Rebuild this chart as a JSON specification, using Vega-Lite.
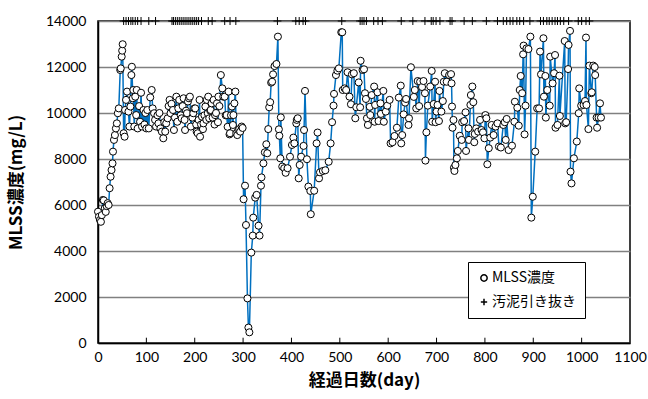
{
  "$schema": "https://vega.github.io/schema/vega-lite/v6.json",
  "width": 532,
  "height": 322,
  "autosize": "none",
  "padding": {"left": 98, "top": 21, "right": 18, "bottom": 56},
  "background": "white",
  "config": {
    "view": {"stroke": "black", "strokeWidth": 1.5},
    "font": "Lato"
  },
  "datasets": {
    "mlss": [
      {"d":0,"v":5710},{"d":2,"v":5490},{"d":4,"v":5350},{"d":6,"v":5270},{"d":8,"v":5560},{"d":10,"v":6220},{"d":12,"v":6200},{"d":14,"v":5860},{"d":16,"v":5700},{"d":18,"v":5950},{"d":20,"v":6080},{"d":22,"v":6000},{"d":24,"v":6730},{"d":26,"v":7230},{"d":28,"v":7520},{"d":30,"v":7810},{"d":31,"v":8320},{"d":33,"v":8830},{"d":35,"v":9040},{"d":37,"v":9330},{"d":39,"v":9550},{"d":41,"v":9990},{"d":43,"v":10200},{"d":46,"v":11870},{"d":47,"v":11940},{"d":49,"v":12450},{"d":50,"v":12710},{"d":51,"v":12990},{"d":53,"v":9120},{"d":55,"v":8970},{"d":56,"v":10130},{"d":58,"v":10570},{"d":60,"v":10930},{"d":63,"v":10060},{"d":65,"v":9410},{"d":67,"v":10280},{"d":69,"v":11650},{"d":70,"v":12010},{"d":72,"v":10640},{"d":73,"v":11000},{"d":75,"v":9410},{"d":77,"v":10710},{"d":79,"v":9910},{"d":80,"v":11000},{"d":82,"v":9330},{"d":85,"v":10300},{"d":87,"v":9620},{"d":89,"v":10880},{"d":91,"v":9410},{"d":94,"v":10130},{"d":96,"v":9500},{"d":98,"v":10000},{"d":100,"v":9330},{"d":102,"v":10130},{"d":105,"v":9330},{"d":108,"v":10680},{"d":111,"v":11000},{"d":113,"v":10200},{"d":116,"v":9990},{"d":118,"v":9700},{"d":120,"v":9410},{"d":123,"v":9900},{"d":125,"v":9550},{"d":127,"v":10000},{"d":129,"v":9330},{"d":132,"v":9190},{"d":135,"v":8900},{"d":137,"v":9600},{"d":139,"v":9190},{"d":141,"v":9550},{"d":144,"v":9770},{"d":146,"v":10300},{"d":148,"v":10570},{"d":150,"v":9990},{"d":152,"v":10400},{"d":155,"v":10130},{"d":157,"v":9260},{"d":159,"v":9800},{"d":162,"v":10710},{"d":164,"v":9620},{"d":166,"v":10200},{"d":168,"v":10570},{"d":171,"v":9900},{"d":173,"v":9770},{"d":175,"v":10300},{"d":177,"v":10640},{"d":179,"v":9700},{"d":180,"v":9260},{"d":182,"v":10100},{"d":184,"v":9990},{"d":186,"v":10500},{"d":188,"v":10640},{"d":190,"v":10710},{"d":192,"v":9410},{"d":195,"v":9800},{"d":197,"v":9990},{"d":199,"v":10200},{"d":201,"v":10200},{"d":203,"v":9500},{"d":204,"v":9190},{"d":206,"v":9120},{"d":208,"v":9700},{"d":210,"v":10570},{"d":211,"v":8970},{"d":213,"v":9500},{"d":215,"v":9840},{"d":217,"v":9300},{"d":218,"v":9550},{"d":220,"v":9900},{"d":222,"v":10280},{"d":224,"v":9700},{"d":225,"v":10570},{"d":227,"v":9990},{"d":228,"v":10710},{"d":230,"v":9770},{"d":232,"v":10100},{"d":233,"v":10130},{"d":235,"v":10420},{"d":237,"v":9800},{"d":239,"v":10570},{"d":241,"v":9500},{"d":242,"v":9910},{"d":244,"v":10000},{"d":246,"v":10420},{"d":248,"v":9600},{"d":249,"v":10710},{"d":251,"v":10300},{"d":254,"v":11650},{"d":257,"v":11070},{"d":259,"v":10710},{"d":262,"v":10710},{"d":264,"v":9900},{"d":266,"v":9910},{"d":268,"v":9400},{"d":270,"v":10930},{"d":272,"v":9070},{"d":273,"v":9120},{"d":275,"v":9900},{"d":277,"v":10280},{"d":279,"v":9480},{"d":280,"v":9910},{"d":282,"v":10420},{"d":284,"v":10930},{"d":286,"v":9120},{"d":288,"v":9040},{"d":290,"v":9260},{"d":292,"v":9300},{"d":294,"v":9190},{"d":297,"v":9410},{"d":299,"v":9350},{"d":301,"v":6250},{"d":304,"v":6840},{"d":306,"v":5130},{"d":309,"v":1940},{"d":311,"v":670},{"d":313,"v":465},{"d":317,"v":3930},{"d":320,"v":4670},{"d":321,"v":5450},{"d":325,"v":6320},{"d":328,"v":6440},{"d":332,"v":5100},{"d":334,"v":4670},{"d":337,"v":6840},{"d":338,"v":7200},{"d":342,"v":7810},{"d":345,"v":8290},{"d":348,"v":8640},{"d":350,"v":8250},{"d":352,"v":9300},{"d":354,"v":10250},{"d":356,"v":10470},{"d":358,"v":11320},{"d":360,"v":11360},{"d":362,"v":11680},{"d":365,"v":12040},{"d":369,"v":12130},{"d":372,"v":13320},{"d":374,"v":9290},{"d":375,"v":9010},{"d":377,"v":8030},{"d":378,"v":9810},{"d":381,"v":7670},{"d":385,"v":7600},{"d":388,"v":7400},{"d":392,"v":7600},{"d":397,"v":8100},{"d":401,"v":8610},{"d":404,"v":8930},{"d":406,"v":8680},{"d":410,"v":9550},{"d":411,"v":9700},{"d":413,"v":9770},{"d":415,"v":7160},{"d":417,"v":7740},{"d":420,"v":8100},{"d":425,"v":8570},{"d":426,"v":9260},{"d":428,"v":10960},{"d":432,"v":7990},{"d":435,"v":6800},{"d":439,"v":6610},{"d":440,"v":5600},{"d":447,"v":6620},{"d":452,"v":8680},{"d":454,"v":9150},{"d":457,"v":7160},{"d":459,"v":7420},{"d":465,"v":7480},{"d":470,"v":7510},{"d":477,"v":7880},{"d":481,"v":8680},{"d":484,"v":9600},{"d":487,"v":10320},{"d":488,"v":10830},{"d":492,"v":11650},{"d":495,"v":11840},{"d":498,"v":11940},{"d":503,"v":13510},{"d":505,"v":13510},{"d":506,"v":11000},{"d":510,"v":11070},{"d":513,"v":11000},{"d":516,"v":11770},{"d":520,"v":10710},{"d":523,"v":10380},{"d":525,"v":11680},{"d":529,"v":11730},{"d":532,"v":9770},{"d":534,"v":10250},{"d":539,"v":11330},{"d":542,"v":10250},{"d":543,"v":12270},{"d":547,"v":11870},{"d":550,"v":11900},{"d":552,"v":10860},{"d":554,"v":10610},{"d":556,"v":9770},{"d":558,"v":9480},{"d":562,"v":10270},{"d":563,"v":9910},{"d":566,"v":10780},{"d":571,"v":11150},{"d":572,"v":9620},{"d":573,"v":10350},{"d":578,"v":10900},{"d":580,"v":9650},{"d":584,"v":10420},{"d":585,"v":9960},{"d":590,"v":10960},{"d":591,"v":9620},{"d":595,"v":10060},{"d":598,"v":10320},{"d":603,"v":10570},{"d":605,"v":8680},{"d":609,"v":8730},{"d":613,"v":9000},{"d":618,"v":9360},{"d":622,"v":10670},{"d":626,"v":11190},{"d":627,"v":8680},{"d":629,"v":9040},{"d":632,"v":9940},{"d":635,"v":10450},{"d":637,"v":10610},{"d":642,"v":9480},{"d":643,"v":9770},{"d":647,"v":11990},{"d":653,"v":10700},{"d":655,"v":11000},{"d":658,"v":10200},{"d":661,"v":11390},{"d":664,"v":10300},{"d":666,"v":11360},{"d":670,"v":11130},{"d":673,"v":11390},{"d":676,"v":10860},{"d":677,"v":7930},{"d":679,"v":9160},{"d":682,"v":10320},{"d":687,"v":11150},{"d":690,"v":11830},{"d":691,"v":9620},{"d":694,"v":10390},{"d":697,"v":11360},{"d":698,"v":9600},{"d":700,"v":10060},{"d":702,"v":10350},{"d":705,"v":9650},{"d":706,"v":10960},{"d":710,"v":10060},{"d":713,"v":10520},{"d":715,"v":11360},{"d":717,"v":11730},{"d":721,"v":11360},{"d":726,"v":11650},{"d":730,"v":11690},{"d":731,"v":11290},{"d":732,"v":10280},{"d":733,"v":9360},{"d":735,"v":9700},{"d":736,"v":7620},{"d":737,"v":7480},{"d":739,"v":7740},{"d":742,"v":8030},{"d":744,"v":8350},{"d":748,"v":9010},{"d":752,"v":8830},{"d":753,"v":9600},{"d":757,"v":9650},{"d":760,"v":10030},{"d":761,"v":8350},{"d":766,"v":9330},{"d":767,"v":8830},{"d":770,"v":10350},{"d":771,"v":10780},{"d":774,"v":11150},{"d":776,"v":10470},{"d":778,"v":8730},{"d":779,"v":9090},{"d":782,"v":9330},{"d":786,"v":9190},{"d":790,"v":9700},{"d":793,"v":9260},{"d":796,"v":9160},{"d":799,"v":8900},{"d":801,"v":9910},{"d":803,"v":9770},{"d":805,"v":7770},{"d":808,"v":8470},{"d":811,"v":8930},{"d":814,"v":9480},{"d":818,"v":9040},{"d":822,"v":9410},{"d":826,"v":9550},{"d":829,"v":8540},{"d":833,"v":8500},{"d":838,"v":9480},{"d":841,"v":9600},{"d":843,"v":8830},{"d":845,"v":9740},{"d":849,"v":8390},{"d":856,"v":8580},{"d":861,"v":9620},{"d":862,"v":10490},{"d":867,"v":10230},{"d":870,"v":9450},{"d":872,"v":11000},{"d":874,"v":11610},{"d":877,"v":10860},{"d":879,"v":12550},{"d":880,"v":12930},{"d":882,"v":9070},{"d":884,"v":10320},{"d":886,"v":12810},{"d":890,"v":12780},{"d":894,"v":13320},{"d":896,"v":5450},{"d":899,"v":6360},{"d":904,"v":8320},{"d":908,"v":10200},{"d":912,"v":10200},{"d":914,"v":12670},{"d":916,"v":11680},{"d":921,"v":13250},{"d":922,"v":10710},{"d":925,"v":11610},{"d":926,"v":9800},{"d":929,"v":11000},{"d":934,"v":10320},{"d":935,"v":12450},{"d":940,"v":11290},{"d":943,"v":11730},{"d":945,"v":12520},{"d":946,"v":9360},{"d":950,"v":9480},{"d":954,"v":11620},{"d":955,"v":9870},{"d":965,"v":13130},{"d":966,"v":9550},{"d":968,"v":9600},{"d":972,"v":11910},{"d":973,"v":12960},{"d":976,"v":13570},{"d":977,"v":7450},{"d":979,"v":6940},{"d":984,"v":8030},{"d":990,"v":8760},{"d":994,"v":9990},{"d":995,"v":11070},{"d":999,"v":10320},{"d":1004,"v":10350},{"d":1007,"v":10520},{"d":1009,"v":13280},{"d":1010,"v":10350},{"d":1014,"v":9300},{"d":1016,"v":12060},{"d":1020,"v":10860},{"d":1021,"v":10900},{"d":1024,"v":12060},{"d":1027,"v":12000},{"d":1028,"v":11650},{"d":1031,"v":9800},{"d":1032,"v":9360},{"d":1035,"v":9800},{"d":1038,"v":10420},{"d":1040,"v":9800}
    ],
    "wd": [
      {"d":53},{"d":58},{"d":63},{"d":68},{"d":72},{"d":77},{"d":82},{"d":89},{"d":105},{"d":119},{"d":153},{"d":156},{"d":160},{"d":164},{"d":168},{"d":172},{"d":176},{"d":180},{"d":184},{"d":188},{"d":192},{"d":196},{"d":200},{"d":204},{"d":208},{"d":214},{"d":228},{"d":236},{"d":262},{"d":273},{"d":285},{"d":371},{"d":409},{"d":416},{"d":424},{"d":429},{"d":504},{"d":542},{"d":546},{"d":550},{"d":555},{"d":570},{"d":579},{"d":588},{"d":627},{"d":651},{"d":676},{"d":689},{"d":693},{"d":699},{"d":707},{"d":728},{"d":732},{"d":757},{"d":774},{"d":803},{"d":826},{"d":838},{"d":845},{"d":852},{"d":858},{"d":866},{"d":872},{"d":880},{"d":893},{"d":915},{"d":921},{"d":928},{"d":933},{"d":939},{"d":945},{"d":950},{"d":956},{"d":963},{"d":973},{"d":993},{"d":1000},{"d":1009},{"d":1016}
    ],
    "xt": [
      {"t":100},{"t":200},{"t":300},{"t":400},{"t":500},{"t":600},{"t":700},{"t":800},{"t":900},{"t":1000}
    ]
  },
  "layer": [
    {
      "data": {"name": "mlss"},
      "mark": {"type": "line", "color": "#0070C0", "strokeWidth": 1.5},
      "encoding": {
        "x": {
          "field": "d", "type": "quantitative",
          "scale": {"domain": [0, 1100], "nice": false},
          "axis": {
            "title": "経過日数(day)",
            "titleFont": "Noto Sans CJK JP", "titleFontWeight": "bold", "titleFontSize": 17, "titleColor": "black", "titlePadding": 8,
            "values": [0,100,200,300,400,500,600,700,800,900,1000,1100],
            "format": "d",
            "grid": false,
            "ticks": false,
            "labelFontSize": 14, "labelColor": "black", "labelPadding": 7,
            "labelOverlap": false, "labelFlush": false, "labelBound": false,
            "domainColor": "black", "domainWidth": 1.5
          }
        },
        "y": {
          "field": "v", "type": "quantitative",
          "scale": {"domain": [0, 14000], "nice": false},
          "axis": {
            "title": "MLSS濃度(mg/L)",
            "titleFont": "Noto Sans CJK JP", "titleFontWeight": "bold", "titleFontSize": 17, "titleColor": "black", "titlePadding": 20,
            "values": [0,2000,4000,6000,8000,10000,12000,14000],
            "format": "d",
            "grid": true, "gridColor": "#808080", "gridWidth": 1.5,
            "ticks": false,
            "labelFontSize": 14, "labelColor": "black", "labelPadding": 12,
            "labelOverlap": false, "labelFlush": false, "labelBound": false,
            "domainColor": "black", "domainWidth": 1.5
          }
        }
      }
    },
    {
      "data": {"name": "xt"},
      "mark": {"type": "rule", "color": "black", "strokeWidth": 1},
      "encoding": {
        "x": {"field": "t", "type": "quantitative"},
        "y": {"datum": 0, "type": "quantitative"},
        "y2": {"datum": 230}
      }
    },
    {
      "data": {"name": "mlss"},
      "mark": {"type": "point", "filled": true, "fill": "white", "stroke": "black", "strokeWidth": 1, "size": 50, "opacity": 1},
      "encoding": {
        "x": {"field": "d", "type": "quantitative"},
        "y": {"field": "v", "type": "quantitative"},
        "shape": {
          "datum": "MLSS濃度",
          "scale": {"domain": ["MLSS濃度", "汚泥引き抜き"], "range": ["circle", "M0,-1V1M-1,0H1"]},
          "legend": {
            "title": null,
            "orient": "none", "legendX": 370, "legendY": 241,
            "strokeColor": "black", "fillColor": "white", "padding": 9,
            "labelFont": "Noto Sans CJK JP", "labelFontSize": 14, "labelColor": "black", "labelOffset": 1,
            "symbolSize": 40,
            "rowPadding": 10,
            "encode": {
              "symbols": {"update": {"fill": {"value": "white"}, "stroke": {"value": "black"}, "strokeWidth": {"value": 1}, "opacity": {"value": 1}}}
            }
          }
        }
      }
    },
    {
      "data": {"name": "wd"},
      "mark": {"type": "point", "filled": false, "stroke": "black", "strokeWidth": 1, "size": 64, "opacity": 1},
      "encoding": {
        "x": {"field": "d", "type": "quantitative"},
        "y": {"datum": 14000, "type": "quantitative"},
        "shape": {"datum": "汚泥引き抜き"}
      }
    }
  ]
}
